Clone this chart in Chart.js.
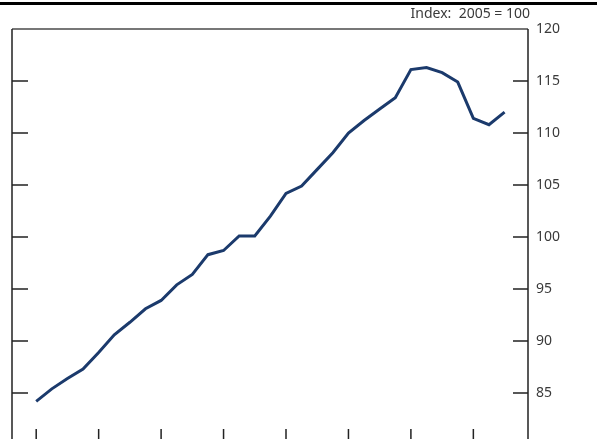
<!DOCTYPE html>
<html>
<head>
<meta charset="utf-8">
<script src="https://cdn.jsdelivr.net/npm/chart.js@4.4.1/dist/chart.umd.min.js"></script>
<style>
    html, body { margin: 0; padding: 0; background: #fff; overflow: hidden; }
    #wrap { width: 597px; height: 480px; }
</style>
</head>
<body>
<div id="wrap"><canvas id="indexChart" width="597" height="480"></canvas></div>
<script>
// Datos (trimestral, 2002T1 - 2009T3)
const years = [2002, 2003, 2004, 2005, 2006, 2007, 2008, 2009];
const indexValues = [
    84.2, 85.4, 86.4, 87.3,
    88.9, 90.6, 91.8, 93.1,
    93.9, 95.4, 96.4, 98.3,
    98.7, 100.1, 100.1, 102.0,
    104.2, 104.9, 106.5, 108.1,
    110.0, 111.2, 112.3, 113.4,
    116.1, 116.3, 115.8, 114.9,
    111.4, 110.8, 112.0
];
const yTicks = [80, 85, 90, 95, 100, 105, 110, 115, 120];
const unitLabel = 'Index:  2005 = 100';

const quarterLabels = [];
years.forEach(y => { for (let q = 1; q <= 4; q++) quarterLabels.push(y + ' T' + q); });

const FONT = '"Noto Sans", sans-serif';
const TEXT_COLOR = '#3a3a3a';

// Marco, marcas interiores y rótulo superior
const framePlugin = {
    id: 'frame',
    afterDraw(chart) {
        const { ctx, chartArea: a, scales: { x, y } } = chart;
        ctx.save();

        ctx.fillStyle = '#000';
        ctx.fillRect(0, 2, chart.width, 3);

        ctx.font = '14px ' + FONT;
        ctx.fillStyle = TEXT_COLOR;
        ctx.textAlign = 'right';
        ctx.textBaseline = 'middle';
        ctx.fillText(unitLabel, a.right + 2, 14);

        ctx.strokeStyle = '#777';
        ctx.lineWidth = 2;
        ctx.beginPath();
        ctx.moveTo(a.left, a.top);
        ctx.lineTo(a.right, a.top);
        ctx.stroke();

        ctx.strokeStyle = '#222';
        ctx.lineWidth = 1.5;
        ctx.beginPath();
        ctx.moveTo(a.left, a.top);
        ctx.lineTo(a.left, a.bottom);
        ctx.lineTo(a.right, a.bottom);
        ctx.moveTo(a.right, a.top);
        ctx.lineTo(a.right, a.bottom);

        y.ticks.forEach(t => {
            if (t.value === y.min || t.value === y.max) return;
            const py = y.getPixelForValue(t.value);
            ctx.moveTo(a.left, py);
            ctx.lineTo(a.left + 16, py);
            ctx.moveTo(a.right - 15, py);
            ctx.lineTo(a.right, py);
        });
        x.ticks.forEach(t => {
            const px = x.getPixelForValue(t.value);
            ctx.moveTo(px, a.bottom - 16);
            ctx.lineTo(px, a.bottom);
        });
        ctx.stroke();
        ctx.restore();
    }
};

const ctx = document.getElementById('indexChart').getContext('2d');
const indexChart = new Chart(ctx, {
    type: 'line',
    data: {
        datasets: [{
            label: 'Index',
            data: indexValues.map((v, i) => ({ x: i, y: v, label: quarterLabels[i] })),
            borderColor: '#1b3a6c',
            borderWidth: 3,
            pointRadius: 0,
            tension: 0,
            fill: false
        }]
    },
    options: {
        responsive: false,
        animation: false,
        layout: { padding: { left: 12, top: 29, right: 0, bottom: 35 } },
        plugins: {
            legend: { display: false },
            tooltip: { enabled: false }
        },
        scales: {
            x: {
                type: 'linear',
                min: -1.55,
                max: indexValues.length + 0.5,
                afterBuildTicks: (s) => { s.ticks = years.map((yr, k) => ({ value: k * 4 })); },
                afterFit: (s) => { s.height = 0; },
                ticks: { display: false },
                grid: { display: false, drawTicks: false },
                border: { display: false }
            },
            y: {
                position: 'right',
                min: yTicks[0],
                max: yTicks[yTicks.length - 1],
                afterBuildTicks: (s) => { s.ticks = yTicks.map(v => ({ value: v })); },
                afterFit: (s) => { s.width = 69; },
                ticks: {
                    color: TEXT_COLOR,
                    font: { family: FONT, size: 14 },
                    padding: 8
                },
                grid: { display: false, drawTicks: false },
                border: { display: false }
            }
        }
    },
    plugins: [framePlugin]
});
</script>
</body>
</html>
